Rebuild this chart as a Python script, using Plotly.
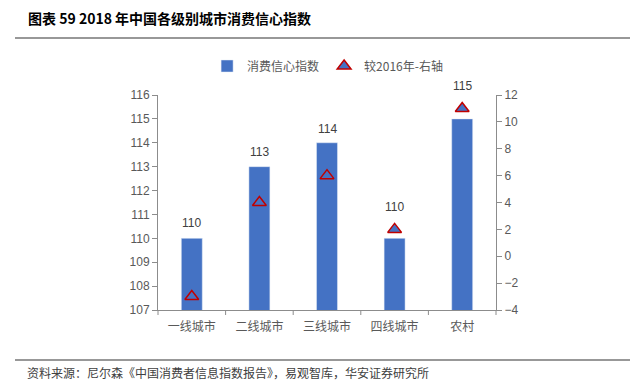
import plotly.graph_objects as go

categories = ["一线城市", "二线城市", "三线城市", "四线城市", "农村"]
index_values = [110, 113, 114, 110, 115]
change_vs_2016 = [-3, 4, 6, 2, 11]
left_ticks = list(range(107, 117))
right_ticks = list(range(-4, 13, 2))
label_shift = [15, 15, 14, 31, 33]   # pixel offset of value labels above bars (style)

W, H = 630, 392
def px(x): return x / W
def py(y): return 1 - y / H

CJK = "Noto Sans CJK SC"
NUM = "Liberation Sans, Arial"
GREY = "#595959"
AX = "#8c8c8c"

fig = go.Figure()
fig.add_trace(go.Bar(
    x=categories, y=index_values, name="消费信心指数",
    marker=dict(color="#4472C4"), width=0.31,
))
fig.add_trace(go.Scatter(
    x=categories, y=change_vs_2016, name="较2016年-右轴", yaxis="y2",
    mode="markers",
    marker=dict(symbol="triangle-up", size=12, color="#4472C4",
                line=dict(color="#C00000", width=1.5)),
))

for c, v, s in zip(categories, index_values, label_shift):
    fig.add_annotation(x=c, y=v, xref="x", yref="y", text=str(v), showarrow=False,
                       yshift=s, yanchor="middle",
                       font=dict(family=NUM, size=12, color="#404040"))

fig.update_layout(
    width=W, height=H,
    margin=dict(l=0, r=0, t=0, b=0, pad=0, autoexpand=False),
    paper_bgcolor="white", plot_bgcolor="white",
    showlegend=True,
    legend=dict(orientation="h", x=0.52, xanchor="center", y=py(66), yanchor="middle",
                font=dict(family=CJK, size=12, color=GREY), itemwidth=30,
                traceorder="normal"),
    xaxis=dict(domain=[px(158), px(496)], showline=True, linecolor=AX, linewidth=1,
               ticks="", tickfont=dict(family=CJK, size=12, color=GREY),
               showgrid=False, ticklabelstandoff=6, automargin=False),
    yaxis=dict(domain=[py(310), py(95)], range=[107, 116], tickvals=left_ticks,
               showline=True, linecolor=AX, linewidth=1, ticks="outside", ticklen=5,
               tickcolor=AX, showgrid=False, zeroline=False, automargin=False,
               tickfont=dict(family=NUM, size=12, color=GREY)),
    yaxis2=dict(overlaying="y", side="right", range=[-4, 12], tickvals=right_ticks,
                showline=True, linecolor=AX, linewidth=1, ticks="outside", ticklen=5,
                tickcolor=AX, showgrid=False, zeroline=False, automargin=False,
                tickfont=dict(family=NUM, size=12, color=GREY)),
)

shapes = []
for i in range(6):
    xp = 158 + i * (338 / 5)
    shapes.append(dict(type="line", xref="paper", yref="paper",
                       x0=px(xp), x1=px(xp), y0=py(310), y1=py(315),
                       line=dict(color=AX, width=1)))
shapes.append(dict(type="line", xref="paper", yref="paper", x0=px(15), x1=1,
                   y0=py(38), y1=py(38), line=dict(color="#333333", width=1.2)))
shapes.append(dict(type="line", xref="paper", yref="paper", x0=px(15), x1=1,
                   y0=py(360), y1=py(360), line=dict(color="#333333", width=1.2)))
fig.update_layout(shapes=shapes)

fig.add_annotation(text="<b>图表 59 2018 年中国各级别城市消费信心指数</b>", xref="paper", yref="paper",
                   x=px(26), y=py(18), xanchor="left", yanchor="middle", showarrow=False,
                   font=dict(family=CJK, size=14, color="#000000"))
fig.add_annotation(text="资料来源：尼尔森《中国消费者信息指数报告》，易观智库，华安证券研究所",
                   xref="paper", yref="paper", x=px(25), y=py(372), xanchor="left",
                   yanchor="middle", showarrow=False,
                   font=dict(family=CJK, size=12, color="#404040"))

fig.write_html("out.html", config={"displayModeBar": False},
               post_script="document.body.style.margin='0';")
